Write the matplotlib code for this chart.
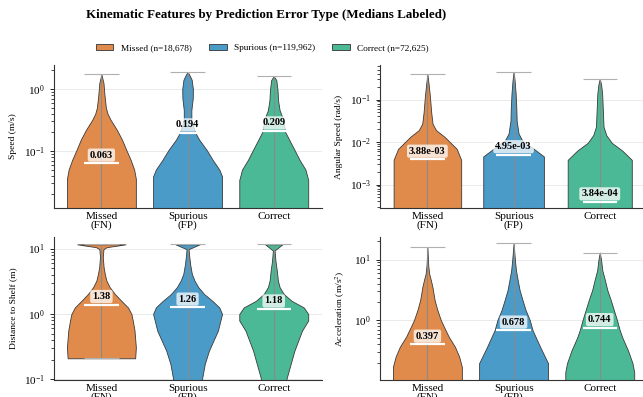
import numpy as np
import matplotlib.pyplot as plt
from matplotlib.patches import Patch

plt.rcParams['font.family'] = 'serif'
plt.rcParams['font.serif'] = ['Liberation Serif', 'DejaVu Serif']
plt.rcParams['mathtext.fontset'] = 'stix'

# groups and legend
groups = ['Missed\n(FN)', 'Spurious\n(FP)', 'Correct']
legend_labels = ['Missed (n=18,678)', 'Spurious (n=119,962)', 'Correct (n=72,625)']
colors = ['#E08B4B', '#4A9BC8', '#4BB996']

# violin outlines: (log10 value, relative width)
speed_profiles = [
    [(-2.0, 1.0), (-1.45, 1.0), (-1.3, 0.95), (-1.145, 0.85), (-0.98, 0.72), (-0.82, 0.6),
     (-0.66, 0.45), (-0.5, 0.27), (-0.4, 0.18), (-0.3, 0.13), (-0.1, 0.09), (0.1, 0.06), (0.238, 0.0)],
    [(-2.0, 1.0), (-1.41, 1.0), (-1.3, 0.92), (-1.145, 0.73), (-0.98, 0.55), (-0.82, 0.34),
     (-0.7, 0.22), (-0.5, 0.11), (-0.34, 0.11), (-0.15, 0.15), (0.0, 0.155), (0.15, 0.12),
     (0.22, 0.06), (0.279, 0.0)],
    [(-2.0, 1.0), (-1.47, 1.0), (-1.3, 0.92), (-1.145, 0.75), (-0.98, 0.6), (-0.82, 0.45),
     (-0.69, 0.33), (-0.5, 0.28), (-0.34, 0.17), (-0.18, 0.125), (-0.02, 0.11), (0.145, 0.075),
     (0.21, 0.0)],
]
speed_medians = [0.063, 0.194, 0.209]

angular_profiles = [
    [(-3.6, 0.98), (-2.42, 0.98), (-2.16, 0.85), (-1.88, 0.5), (-1.72, 0.25), (-1.57, 0.15),
     (-1.3, 0.11), (-0.9, 0.07), (-0.6, 0.03), (-0.41, 0.0)],
    [(-3.6, 0.88), (-2.34, 0.88), (-2.12, 0.52), (-1.96, 0.25), (-1.8, 0.145), (-1.5, 0.09),
     (-1.2, 0.08), (-0.86, 0.06), (-0.55, 0.03), (-0.35, 0.0)],
    [(-3.6, 0.93), (-2.42, 0.93), (-2.2, 0.65), (-2.02, 0.35), (-1.84, 0.19), (-1.64, 0.11),
     (-1.25, 0.09), (-0.86, 0.07), (-0.65, 0.04), (-0.51, 0.0)],
]
angular_medians = [3.88e-03, 4.95e-03, 3.84e-04]

distance_profiles = [
    [(-0.677, 0.98), (-0.51, 1.0), (-0.25, 0.96), (-0.1, 0.91), (0.0, 0.87), (0.1, 0.77),
     (0.2, 0.58), (0.305, 0.39), (0.41, 0.24), (0.51, 0.145), (0.61, 0.1), (0.71, 0.065),
     (0.87, 0.04), (0.99, 0.06), (1.02, 0.15), (1.064, 0.7)],
    [(-1.1, 0.4), (-0.99, 0.42), (-0.76, 0.5), (-0.56, 0.62), (-0.255, 0.88), (0.0, 1.0),
     (0.1, 0.92), (0.2, 0.72), (0.305, 0.48), (0.41, 0.31), (0.51, 0.2), (0.61, 0.125),
     (0.76, 0.075), (0.92, 0.04), (0.99, 0.03), (1.064, 0.35)],
    [(-1.1, 0.35), (-0.99, 0.37), (-0.56, 0.6), (-0.255, 0.82), (-0.1, 1.0), (0.0, 1.0),
     (0.1, 0.87), (0.2, 0.52), (0.305, 0.29), (0.41, 0.17), (0.51, 0.12), (0.66, 0.09),
     (0.81, 0.05), (0.97, 0.025), (1.064, 0.25)],
]
distance_medians = [1.38, 1.26, 1.18]

accel_profiles = [
    [(-1.05, 1.0), (-0.77, 1.0), (-0.6, 0.92), (-0.44, 0.8), (-0.275, 0.62), (-0.11, 0.48),
     (0.0, 0.39), (0.165, 0.29), (0.33, 0.21), (0.55, 0.145), (0.66, 0.1), (0.77, 0.05),
     (0.9, 0.025), (1.2, 0.0)],
    [(-1.05, 1.0), (-0.71, 1.0), (-0.44, 0.77), (-0.165, 0.55), (0.0, 0.47), (0.165, 0.35),
     (0.33, 0.26), (0.495, 0.175), (0.66, 0.12), (0.82, 0.07), (0.99, 0.04), (1.264, 0.0)],
    [(-1.05, 1.0), (-0.86, 1.0), (-0.71, 0.95), (-0.5, 0.82), (-0.28, 0.65), (-0.165, 0.58),
     (0.0, 0.5), (0.165, 0.41), (0.33, 0.32), (0.495, 0.22), (0.66, 0.15), (0.82, 0.075),
     (0.99, 0.04), (1.115, 0.0)],
]
accel_medians = [0.397, 0.678, 0.744]


def draw_panel(ax, profiles, medians, ylim, ylabel, fmt):
    for i, prof in enumerate(profiles):
        logs = np.array([p[0] for p in prof])
        dens = np.array([p[1] for p in prof])
        y = 10 ** logs
        hw = 0.4 * dens
        ax.fill_betweenx(y, i - hw, i + hw, facecolor=colors[i], edgecolor='#3a3a3a',
                         linewidth=0.6, zorder=2)
        ax.vlines(i, y[0], y[-1], color='#8a8a8a', linewidth=0.8, zorder=3)
        ax.hlines([y[0], y[-1]], i - 0.2, i + 0.2, color='#b0b0b0', linewidth=0.8, zorder=3)
        ax.hlines(medians[i], i - 0.2, i + 0.2, color='white', linewidth=1.6, zorder=4)
        ax.annotate(fmt(medians[i]), (i, medians[i]), xytext=(0, 6), textcoords='offset points',
                    ha='center', va='center', fontsize=7.5, fontweight='bold',
                    bbox=dict(boxstyle='round,pad=0.2', fc='white', ec='none', alpha=0.75),
                    zorder=5)
    ax.set_yscale('log')
    ax.set_ylim(ylim)
    ax.set_xlim(-0.55, 2.56)
    ax.set_xticks(range(len(groups)))
    ax.set_xticklabels(groups, fontsize=8, linespacing=0.9)
    ax.set_ylabel(ylabel, fontsize=6.8, labelpad=5)
    ax.tick_params(axis='y', labelsize=8, length=3, width=0.6)
    ax.tick_params(axis='y', which='minor', length=2, width=0.5)
    ax.tick_params(axis='x', length=0, pad=3)
    ax.grid(axis='y', which='major', color='#e6e6e6', linewidth=0.6, zorder=0)
    ax.set_axisbelow(True)
    for s in ['top', 'right']:
        ax.spines[s].set_visible(False)
    for s in ['left', 'bottom']:
        ax.spines[s].set_color('#333333')
        ax.spines[s].set_linewidth(0.8)


fig = plt.figure(figsize=(6.43, 3.97), dpi=100)
W, H = 643, 397


def add_ax(left, top, right, bottom):
    return fig.add_axes([left / W, 1 - bottom / H, (right - left) / W, (bottom - top) / H])


ax1 = add_ax(54, 65, 322, 208)
ax2 = add_ax(380, 65, 648, 208)
ax3 = add_ax(54, 237, 322, 380)
ax4 = add_ax(380, 237, 648, 380)

draw_panel(ax1, speed_profiles, speed_medians, (0.012, 2.45), 'Speed (m/s)', lambda v: f'{v:.3f}')
draw_panel(ax2, angular_profiles, angular_medians, (2.8e-4, 0.65), 'Angular Speed (rad/s)',
           lambda v: f'{v:.2e}')
draw_panel(ax3, distance_profiles, distance_medians, (0.098, 15.0), 'Distance to Shelf (m)',
           lambda v: f'{v:.2f}')
draw_panel(ax4, accel_profiles, accel_medians, (0.103, 23.5), 'Acceleration (m/s$^2$)',
           lambda v: f'{v:.3f}')

fig.suptitle('Kinematic Features by Prediction Error Type (Medians Labeled)', x=0.414, y=0.978,
             fontsize=9.4, fontweight='bold')
handles = [Patch(facecolor=c, edgecolor='#333333', linewidth=0.6) for c in colors]
fig.legend(handles, legend_labels, loc='center', bbox_to_anchor=(0.408, 0.879), ncol=3,
           frameon=False, fontsize=6.7, handlelength=1.9, handleheight=0.6,
           handletextpad=0.8, columnspacing=1.85)

fig.savefig('out.png', dpi=100)
